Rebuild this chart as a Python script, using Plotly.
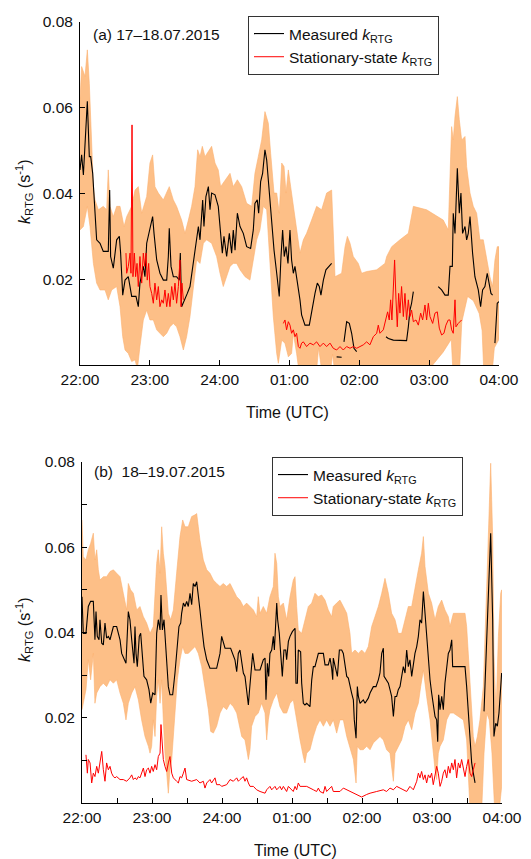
import plotly.graph_objects as go

# ---------------- DATA (time = minutes after 22:00 UTC) ----------------
hour_ticks = [0, 60, 120, 180, 240, 300, 360]
hour_labels = ["22:00", "23:00", "24:00", "01:00", "02:00", "03:00", "04:00"]

# Panel (a) 17-18.07.2015
meas_a = [(0,0.0455),(1.4,0.0490),(2.9,0.0443),(4.3,0.0510),(6.3,0.0615),(8.0,0.0486),(9.2,0.0486),(10.9,0.0447),
 (12.9,0.0370),(14.3,0.0292),(17.2,0.0284),(20.0,0.0265),(24.3,0.0265),(25.5,0.0408),(26.3,0.0253),(28.6,0.0226),
 (31.5,0.0292),(33.8,0.0300),(34.9,0.0261),(36.7,0.0163),(38.7,0.0198),(41.5,0.0206),(44.4,0.0160),(48.1,0.0160),
 (50.1,0.0136),(51.5,0.0191),(54.4,0.0230),(55.8,0.0206),(57.3,0.0284),(60.1,0.0315),(62.4,0.0346),(63.6,0.0307),
 (65.9,0.0245),(68.7,0.0214),(71.6,0.0198),(74.5,0.0198),(75.9,0.0253),(76.7,0.0319),(78.2,0.0230),(80.2,0.0206),
 (83.0,0.0206),(85.3,0.0198),(86.2,0.0261),(87.3,0.0136),(90.2,0.0152),(92.2,0.0167),(94.5,0.0183),(97.4,0.0237),
 (100.2,0.0292),(101.7,0.0323),(103.1,0.0292),(105.4,0.0385),(106.5,0.0323),(108.2,0.0393),(110.3,0.0416),(111.7,0.0362),
 (113.1,0.0401),(116.0,0.0397),(118.8,0.0370),(120.3,0.0315),(122.3,0.0261),(123.7,0.0300),(126.0,0.0253),(128.3,0.0307),
 (130.3,0.0261),(131.7,0.0315),(133.2,0.0268),(135.2,0.0354),(137.5,0.0323),(140.3,0.0307),(143.2,0.0276),(146.6,0.0272),
 (148.9,0.0315),(150.3,0.0377),(152.3,0.0385),(153.5,0.0354),(155.2,0.0428),(156.9,0.0447),(158.9,0.0502),(160.4,0.0478),
 (162.7,0.0401),(164.7,0.0323),(166.7,0.0268),(169.0,0.0214),(171.2,0.0160),(172.7,0.0253),(174.1,0.0315),(175.5,0.0253),
 (177.0,0.0276),(178.7,0.0237),(180.4,0.0315),(181.8,0.0245),(183.3,0.0214),(184.7,0.0230),(187.0,0.0191),(189.0,0.0152),
 (190.4,0.0117),(193.3,0.0093),(197.0,0.0093),(199.6,0.0136),(201.9,0.0167),(203.9,0.0191),(205.6,0.0183),(207.0,0.0163),
 (209.1,0.0198),(211.3,0.0222),(214.2,0.0230),(216.2,0.0237),(218.0,None),
 (220.5,0.0019),(224.8,0.0018),(225.8,None),
 (226.8,0.0054),(229.1,0.0101),(231.4,0.0097),(233.4,0.0074),(235.4,0.0039),(237.7,0.0031),(250.0,None),
 (262.9,0.0066),(264.9,0.0062),(269.2,0.0058),(274.9,0.0057),(280.6,0.0057),(282.1,0.0089),(283.5,0.0128),(284.9,0.0144),
 (286.4,0.0171),(297.0,None),
 (307.8,0.0183),(310.7,0.0175),(313.6,0.0163),(316.4,0.0163),(317.9,0.0230),(319.9,0.0230),(320.7,0.0354),(322.2,0.0307),
 (324.2,0.0459),(325.9,0.0354),(327.3,0.0401),(328.7,0.0307),(330.8,0.0323),(332.2,0.0292),(333.6,0.0307),(335.1,0.0346),
 (337.3,0.0261),(339.3,0.0206),(342.2,0.0175),(344.2,0.0136),(345.9,0.0175),(347.9,0.0183),(349.9,0.0214),(351.7,0.0191),
 (353.1,0.0167),(354.5,0.0163),(355.5,None),
 (356.5,0.0051),(358.5,0.0144),(360.0,0.0148)]

stat_a = [(39.5,0.0261),(40.1,0.0214),(41.5,0.0230),(43.0,0.0261),(43.8,0.0214),(44.7,0.0560),(45.5,0.0206),(46.7,0.0261),
 (47.8,0.0206),(49.0,0.0237),(50.1,0.0183),(51.5,0.0253),(53.0,0.0191),(54.4,0.0261),(55.6,0.0230),(56.7,0.0261),
 (57.8,0.0198),(59.0,0.0237),(60.1,0.0183),(61.6,0.0167),(63.0,0.0144),(64.4,0.0191),(65.9,0.0152),(67.3,0.0183),
 (68.7,0.0136),(70.2,0.0152),(71.6,0.0144),(73.0,0.0175),(74.5,0.0136),(75.9,0.0167),(77.3,0.0136),(78.8,0.0183),
 (80.2,0.0152),(81.6,0.0191),(83.0,0.0144),(84.5,0.0183),(85.9,0.0245),(86.8,0.0136),(87.6,0.0191),(88.8,0.0152),
 (110.0,None),
 (174.7,0.0097),(176.1,0.0105),(177.5,0.0082),(179.0,0.0101),(180.4,0.0093),(181.8,0.0074),(183.3,0.0082),(184.7,0.0066),
 (186.1,0.0074),(187.6,0.0043),(189.0,0.0039),(190.4,0.0051),(191.9,0.0054),(194.7,0.0043),(197.6,0.0051),(200.5,0.0047),
 (203.3,0.0054),(206.2,0.0043),(209.1,0.0051),(211.9,0.0043),(214.8,0.0051),(217.6,0.0039),(220.5,0.0035),(223.4,0.0043),
 (226.2,0.0035),(229.1,0.0043),(232.0,0.0039),(234.8,0.0043),(237.7,0.0039),(240.5,0.0043),(243.4,0.0047),(246.3,0.0054),
 (249.1,0.0047),(252.0,0.0066),(254.9,0.0074),(256.3,0.0093),(257.7,0.0074),(260.6,0.0082),(262.9,0.0105),(264.3,0.0124),
 (265.7,0.0105),(266.9,0.0152),(268.0,0.0105),(269.2,0.0167),(270.3,0.0245),(271.5,0.0152),(272.6,0.0089),(273.8,0.0167),
 (274.9,0.0121),(276.3,0.0183),(277.8,0.0113),(279.2,0.0167),(280.6,0.0105),(282.1,0.0152),(283.5,0.0113),(284.9,0.0128),
 (286.4,0.0101),(288.7,0.0105),(290.7,0.0093),(292.7,0.0121),(294.4,0.0105),(296.4,0.0140),(297.8,0.0105),(299.3,0.0144),
 (300.7,0.0113),(303.0,0.0097),(305.0,0.0121),(307.0,0.0124),(308.7,0.0086),(310.7,0.0070),(312.7,0.0074),(314.4,0.0093),
 (316.4,0.0105),(317.9,0.0105),(319.3,0.0082),(320.7,0.0074),(322.2,0.0152),(323.0,0.0089),(325.0,0.0097),(327.9,0.0105)]

upper_a = [(0,0.0619),(1.4,0.0696),(4.3,0.0673),(6.3,0.0735),(8.0,0.0657),(10.0,0.0525),(11.5,0.0416),(12.9,0.0385),
 (15.8,0.0362),(20.0,0.0370),(22.9,0.0362),(24.3,0.0455),(25.8,0.0370),(28.6,0.0346),(31.5,0.0370),(34.4,0.0370),
 (37.8,0.0323),(40.1,0.0346),(44.4,0.0370),(47.3,0.0408),(50.1,0.0416),(53.0,0.0354),(57.3,0.0393),(60.1,0.0471),
 (62.4,0.0490),(64.4,0.0416),(67.3,0.0401),(71.6,0.0385),(74.5,0.0401),(76.7,0.0416),(80.2,0.0385),(83.0,0.0370),
 (87.3,0.0338),(90.2,0.0307),(93.1,0.0338),(95.9,0.0370),(98.8,0.0416),(101.1,0.0502),(103.1,0.0486),(105.1,0.0510),
 (107.4,0.0486),(110.3,0.0498),(113.1,0.0510),(116.0,0.0471),(118.8,0.0455),(120.8,0.0416),(124.6,0.0432),(128.9,0.0447),
 (131.7,0.0416),(135.2,0.0432),(138.9,0.0416),(143.2,0.0377),(147.5,0.0370),(150.3,0.0447),(153.2,0.0486),(156.1,0.0525),
 (158.9,0.0591),(161.8,0.0564),(163.8,0.0494),(166.7,0.0401),(169.0,0.0401),(171.2,0.0354),(173.3,0.0471),(175.3,0.0463),
 (177.0,0.0401),(179.0,0.0455),(181.0,0.0416),(183.3,0.0370),(186.1,0.0307),(189.0,0.0261),(191.9,0.0292),(194.7,0.0307),
 (199.0,0.0338),(203.3,0.0370),(207.6,0.0362),(211.9,0.0401),(216.2,0.0408),(219.1,0.0206),(224.8,0.0214),(227.7,0.0276),
 (229.7,0.0300),(232.0,0.0284),(234.8,0.0253),(239.1,0.0237),(242.0,0.0214),(246.3,0.0218),(254.9,0.0222),(262.0,0.0237),
 (263.5,0.0253),(267.8,0.0276),(274.9,0.0292),(282.1,0.0307),(286.4,0.0370),(297.8,0.0362),(312.1,0.0338),(316.4,0.0315),
 (319.3,0.0556),(320.7,0.0525),(322.2,0.0580),(324.2,0.0626),(325.9,0.0572),(327.9,0.0525),(330.8,0.0533),(332.2,0.0463),
 (335.1,0.0401),(337.9,0.0370),(340.8,0.0354),(343.6,0.0292),(346.5,0.0292),(349.4,0.0245),(352.2,0.0206),(354.5,0.0183),
 (356.5,0.0245),(358.5,0.0276),(360.0,0.0276)]

lower_a = [(0,0.0315),(2.9,0.0323),(6.3,0.0370),(8.6,0.0323),(11.5,0.0237),(14.3,0.0191),(17.2,0.0175),(21.5,0.0175),
 (24.3,0.0152),(27.2,0.0175),(31.5,0.0183),(34.4,0.0136),(36.7,0.0066),(38.7,0.0035),(41.5,0.0027),(44.4,0.0008),
 (47.3,0.0012),(49.3,-0.0010),(51.5,0.0043),(54.4,0.0105),(57.3,0.0128),(60.1,0.0105),(63.0,0.0105),(65.9,0.0082),
 (68.7,0.0074),(71.6,0.0066),(74.5,0.0074),(77.3,0.0089),(80.2,0.0097),(83.0,0.0089),(85.9,0.0066),(88.8,0.0035),
 (91.6,0.0066),(94.5,0.0113),(97.4,0.0183),(100.2,0.0245),(103.1,0.0237),(106.0,0.0284),(108.8,0.0292),(113.1,0.0284),
 (117.4,0.0253),(120.3,0.0214),(123.1,0.0183),(126.0,0.0206),(128.9,0.0230),(131.7,0.0237),(134.6,0.0237),(137.5,0.0222),
 (141.8,0.0206),(146.0,0.0198),(148.9,0.0245),(151.8,0.0292),(154.6,0.0315),(157.5,0.0370),(160.4,0.0362),(163.2,0.0245),
 (166.1,0.0113),(169.0,0.0027),(170.4,0.0004),(173.3,0.0058),(176.1,0.0051),(179.0,0.0019),(181.8,0.0027),(183.3,0.0074),
 (186.1,0.0027),(188.4,-0.0020),(203.0,-0.0020),(205.0,0.0040),(208.0,-0.0020),(215.0,-0.0020),(217.0,0.0025),
 (219.0,-0.0020),(300.0,-0.0020),(303.0,0.0000),(312.0,0.0030),(319.0,0.0060),(320.5,-0.0020),(326.0,-0.0020),
 (328.0,0.0100),(333.0,0.0160),(338.0,0.0150),(343.0,0.0120),(345.5,0.0080),(347.0,-0.0020),(354.0,-0.0020),
 (356.0,0.0040),(360.0,0.0060)]

# Panel (b) 18-19.07.2015
meas_b = [(0,0.0484),(1.1,0.0398),(3.4,0.0398),(5.4,0.0461),(7.4,0.0473),(9.7,0.0473),(11.1,0.0383),(12.0,0.0449),
 (13.1,0.0391),(14.6,0.0383),(15.4,0.0430),(16.9,0.0375),(18.3,0.0371),(19.7,0.0422),(21.1,0.0387),(22.6,0.0391),
 (24.0,0.0383),(26.9,0.0414),(29.7,0.0414),(31.1,0.0398),(32.6,0.0383),(34.0,0.0351),(36.0,0.0336),(37.7,0.0328),
 (39.7,0.0449),(41.1,0.0430),(42.6,0.0383),(43.4,0.0359),(44.6,0.0328),(45.4,0.0414),(46.3,0.0351),(47.4,0.0320),
 (49.1,0.0391),(50.3,0.0398),(52.0,0.0320),(53.1,0.0297),(55.4,0.0289),(57.4,0.0266),(58.9,0.0234),(60.6,0.0258),
 (62.6,0.0254),(64.0,0.0398),(65.4,0.0430),(66.9,0.0406),(67.7,0.0488),(68.9,0.0406),(70.3,0.0430),(71.1,0.0398),
 (72.6,0.0351),(74.0,0.0273),(75.4,0.0254),(77.7,0.0254),(79.7,0.0305),(81.1,0.0351),(83.1,0.0414),(84.6,0.0422),
 (85.4,0.0445),(86.9,0.0469),(88.3,0.0461),(89.7,0.0473),(91.1,0.0461),(92.6,0.0492),(94.0,0.0465),(95.4,0.0515),
 (96.9,0.0508),(98.3,0.0519),(99.7,0.0492),(101.1,0.0453),(102.6,0.0414),(104.6,0.0367),(106.9,0.0336),(109.7,0.0316),
 (115.4,0.0316),(116.9,0.0336),(118.3,0.0351),(119.7,0.0391),(121.1,0.0379),(122.6,0.0363),(127.4,0.0363),(129.7,0.0344),
 (131.1,0.0336),(132.6,0.0308),(134.0,0.0351),(135.4,0.0359),(136.9,0.0336),(138.3,0.0305),(139.7,0.0297),(141.1,0.0266),
 (142.6,0.0230),(143.4,0.0258),(144.6,0.0305),(146.3,0.0351),(148.3,0.0312),(152.6,0.0312),(155.4,0.0336),(156.9,0.0340),
 (157.7,0.0242),(158.9,0.0328),(160.0,0.0297),(161.1,0.0351),(162.6,0.0359),(164.0,0.0391),(164.9,0.0359),(165.7,0.0414),
 (166.9,0.0469),(167.7,0.0430),(169.1,0.0398),(170.3,0.0351),(171.7,0.0297),(173.1,0.0359),(174.6,0.0359),(175.4,0.0336),
 (176.9,0.0379),(178.3,0.0391),(180.3,0.0402),(182.6,0.0410),(183.4,0.0281),(184.6,0.0281),(185.4,0.0359),(187.4,0.0355),
 (188.3,0.0281),(189.7,0.0234),(191.1,0.0230),(192.6,0.0234),(195.4,0.0226),(196.9,0.0289),(198.3,0.0320),(199.7,0.0320),
 (201.1,0.0336),(202.6,0.0351),(206.9,0.0351),(208.3,0.0324),(211.1,0.0324),(212.6,0.0340),(214.0,0.0316),(214.9,0.0289),
 (215.4,0.0340),(216.9,0.0320),(218.9,0.0297),(220.6,0.0359),(222.6,0.0359),(224.0,0.0351),(225.4,0.0328),(226.9,0.0297),
 (228.3,0.0293),(229.7,0.0273),(231.1,0.0258),(232.6,0.0242),(233.4,0.0195),(234.9,0.0152),(236.0,0.0273),(236.9,0.0250),
 (238.3,0.0234),(241.1,0.0242),(242.6,0.0234),(245.4,0.0246),(246.9,0.0258),(249.7,0.0273),(252.0,0.0273),(254.0,0.0289),
 (255.4,0.0305),(256.9,0.0351),(258.3,0.0363),(258.9,0.0297),(261.1,0.0289),(262.6,0.0281),(264.0,0.0266),(265.4,0.0250),
 (266.9,0.0203),(268.3,0.0250),(269.7,0.0250),(271.1,0.0266),(272.6,0.0273),(274.0,0.0297),(275.4,0.0320),(276.9,0.0305),
 (278.3,0.0359),(279.7,0.0320),(281.1,0.0336),(282.6,0.0297),(284.0,0.0328),(285.4,0.0351),(286.9,0.0367),(288.3,0.0391),
 (289.7,0.0430),(291.1,0.0422),(292.6,0.0496),(294.0,0.0445),(295.4,0.0398),(296.9,0.0336),(298.3,0.0289),(299.7,0.0258),
 (301.1,0.0234),(302.6,0.0203),(304.0,0.0195),(304.9,0.0144),(305.7,0.0254),(306.9,0.0219),(308.3,0.0250),(309.7,0.0219),
 (311.1,0.0281),(312.6,0.0320),(314.0,0.0351),(315.4,0.0359),(316.9,0.0383),(317.7,0.0320),(328.3,0.0320),(329.7,0.0273),
 (331.1,0.0219),(332.6,0.0156),(334.0,0.0094),(335.4,0.0070),(336.9,0.0047),(340.0,None),
 (344.6,0.0215),(346.9,0.0391),(348.6,0.0508),(350.3,0.0633),(352.0,0.0430),(353.1,0.0156),(354.6,0.0187),(356.0,0.0180),
 (357.4,0.0211),(358.9,0.0281),(359.7,0.0305)]

stat_b = [(3.4,0.0113),(4.6,0.0070),(5.4,0.0102),(6.9,0.0094),(8.3,0.0047),(9.7,0.0070),(11.1,0.0062),(12.6,0.0086),
 (14.0,0.0070),(15.4,0.0094),(16.9,0.0121),(18.3,0.0078),(19.7,0.0051),(21.1,0.0094),(22.6,0.0078),(24.0,0.0086),
 (25.4,0.0070),(26.9,0.0062),(28.3,0.0059),(29.7,0.0062),(32.6,0.0055),(35.4,0.0055),(38.3,0.0051),(41.1,0.0059),
 (42.6,0.0066),(44.0,0.0055),(45.4,0.0059),(46.9,0.0055),(48.3,0.0062),(49.7,0.0059),(51.1,0.0070),(52.6,0.0082),
 (54.0,0.0062),(55.4,0.0078),(56.9,0.0082),(58.3,0.0070),(59.7,0.0086),(61.1,0.0074),(62.6,0.0090),(64.0,0.0078),
 (65.4,0.0109),(66.9,0.0117),(67.7,0.0184),(68.9,0.0125),(69.7,0.0102),(71.1,0.0086),(72.6,0.0074),(74.0,0.0094),
 (75.4,0.0109),(76.9,0.0070),(78.3,0.0059),(81.1,0.0051),(82.6,0.0047),(84.0,0.0062),(85.4,0.0059),(86.9,0.0070),
 (88.3,0.0082),(89.7,0.0055),(94.0,0.0051),(98.3,0.0055),(101.1,0.0047),(104.0,0.0051),(105.4,0.0035),(106.9,0.0047),
 (109.7,0.0055),(111.1,0.0047),(114.0,0.0059),(115.4,0.0043),(118.3,0.0043),(119.7,0.0039),(124.0,0.0043),(126.9,0.0055),
 (129.7,0.0051),(132.6,0.0059),(134.0,0.0051),(135.4,0.0055),(138.3,0.0062),(139.7,0.0051),(141.1,0.0059),(142.6,0.0047),
 (144.0,0.0039),(146.9,0.0039),(149.7,0.0031),(152.6,0.0027),(156.9,0.0023),(158.3,0.0031),(161.1,0.0039),(162.6,0.0031),
 (165.4,0.0039),(166.9,0.0031),(169.7,0.0039),(171.1,0.0031),(172.6,0.0039),(175.4,0.0027),(176.9,0.0039),(181.1,0.0027),
 (182.6,0.0039),(184.0,0.0031),(185.4,0.0047),(186.9,0.0039),(192.6,0.0039),(198.3,0.0031),(201.1,0.0027),(202.6,0.0035),
 (204.0,0.0027),(206.9,0.0023),(208.3,0.0039),(209.7,0.0027),(214.0,0.0039),(215.4,0.0027),(221.1,0.0027),(224.0,0.0035),
 (226.9,0.0031),(229.7,0.0027),(232.6,0.0023),(235.4,0.0020),(239.7,0.0014),(244.0,0.0020),(246.9,0.0023),(252.6,0.0027),
 (258.3,0.0031),(261.1,0.0027),(264.0,0.0035),(266.9,0.0031),(269.7,0.0039),(272.6,0.0035),(275.4,0.0031),(278.3,0.0027),
 (281.1,0.0039),(284.0,0.0031),(286.9,0.0051),(288.3,0.0070),(289.7,0.0059),(291.1,0.0074),(292.6,0.0055),(294.0,0.0066),
 (295.4,0.0047),(296.9,0.0066),(298.3,0.0059),(299.7,0.0070),(301.1,0.0043),(302.6,0.0062),(304.0,0.0086),(305.4,0.0070),
 (306.9,0.0039),(308.3,0.0051),(309.7,0.0070),(311.1,0.0078),(312.6,0.0059),(314.0,0.0086),(315.4,0.0070),(316.9,0.0094),
 (318.3,0.0078),(319.7,0.0102),(321.1,0.0059),(322.6,0.0094),(324.0,0.0082),(325.4,0.0102),(326.9,0.0078),(328.3,0.0062),
 (329.7,0.0086),(331.1,0.0102),(332.6,0.0070),(334.0,0.0062),(335.4,0.0078),(336.9,0.0094)]

upper_b = [(0,0.0664),(1.1,0.0578),(3.4,0.0570),(5.4,0.0594),(7.4,0.0609),(9.7,0.0633),(11.1,0.0570),(12.6,0.0594),
 (14.0,0.0547),(15.4,0.0523),(18.3,0.0531),(21.1,0.0531),(24.0,0.0543),(26.9,0.0547),(29.7,0.0539),(32.6,0.0531),
 (35.4,0.0492),(38.3,0.0453),(39.7,0.0515),(41.7,0.0500),(44.0,0.0492),(46.9,0.0453),(49.7,0.0461),(52.6,0.0437),
 (55.4,0.0422),(58.3,0.0398),(61.1,0.0414),(64.0,0.0562),(65.4,0.0594),(66.9,0.0539),(68.3,0.0648),(69.7,0.0586),
 (71.1,0.0555),(74.0,0.0445),(76.0,0.0430),(78.3,0.0453),(81.1,0.0539),(84.0,0.0625),(86.3,0.0664),(88.3,0.0648),
 (91.1,0.0648),(94.0,0.0672),(96.9,0.0676),(98.3,0.0679),(99.7,0.0648),(101.1,0.0617),(104.0,0.0570),(106.9,0.0547),
 (109.7,0.0539),(112.6,0.0523),(115.4,0.0515),(118.3,0.0508),(121.1,0.0515),(124.0,0.0508),(126.9,0.0515),(129.7,0.0500),
 (132.6,0.0484),(135.4,0.0476),(138.3,0.0461),(141.1,0.0469),(144.0,0.0461),(146.9,0.0453),(149.7,0.0437),(151.1,0.0484),
 (152.6,0.0445),(155.4,0.0461),(158.3,0.0445),(161.1,0.0484),(164.0,0.0508),(165.4,0.0586),(166.9,0.0562),(168.3,0.0484),
 (169.7,0.0461),(172.6,0.0469),(175.4,0.0430),(178.3,0.0484),(181.1,0.0523),(182.6,0.0531),(184.0,0.0461),(185.4,0.0406),
 (188.3,0.0398),(191.1,0.0430),(194.0,0.0461),(196.9,0.0469),(199.7,0.0492),(202.6,0.0484),(205.4,0.0488),(208.3,0.0476),
 (211.1,0.0453),(214.0,0.0437),(215.4,0.0461),(218.3,0.0469),(221.1,0.0476),(224.0,0.0461),(226.9,0.0445),(229.7,0.0398),
 (231.1,0.0351),(234.0,0.0359),(236.9,0.0351),(239.7,0.0359),(242.6,0.0351),(245.4,0.0367),(248.3,0.0414),(251.1,0.0437),
 (254.0,0.0461),(256.9,0.0492),(259.7,0.0527),(262.6,0.0492),(265.4,0.0445),(268.3,0.0430),(271.1,0.0398),(274.0,0.0398),
 (276.9,0.0430),(279.7,0.0461),(282.6,0.0461),(285.4,0.0508),(288.3,0.0547),(291.1,0.0586),(292.6,0.0625),(294.0,0.0555),
 (296.9,0.0492),(299.7,0.0469),(302.6,0.0430),(305.4,0.0461),(308.3,0.0476),(311.1,0.0453),(314.0,0.0437),(315.4,0.0414),
 (318.3,0.0445),(322.6,0.0445),(328.3,0.0445),(329.7,0.0414),(331.1,0.0351),(332.6,0.0273),(334.0,0.0195),(335.4,0.0156),
 (336.9,0.0133),(338.9,0.0156),(341.1,0.0195),(344.0,0.0273),(346.9,0.0508),(348.6,0.0664),(350.3,0.0797),(352.0,0.0625),
 (353.1,0.0351),(354.9,0.0211),(356.9,0.0391),(358.9,0.0492),(359.7,0.0500)]

lower_b = [(0,0.0219),(1.1,0.0234),(3.4,0.0266),(5.4,0.0336),(7.4,0.0289),(9.7,0.0351),(11.1,0.0234),(12.6,0.0258),
 (15.4,0.0273),(18.3,0.0281),(21.1,0.0273),(24.0,0.0289),(26.9,0.0281),(29.7,0.0289),(32.6,0.0258),(35.4,0.0234),
 (37.7,0.0195),(39.7,0.0234),(42.6,0.0258),(45.4,0.0273),(48.3,0.0242),(51.1,0.0195),(54.0,0.0156),(56.9,0.0133),
 (58.3,0.0117),(59.7,0.0133),(61.1,0.0195),(62.6,0.0156),(64.0,0.0250),(65.4,0.0289),(66.9,0.0234),(68.3,0.0289),
 (69.7,0.0195),(71.1,0.0117),(72.6,0.0070),(74.0,0.0023),(75.4,0.0078),(76.9,0.0102),(78.3,0.0148),(79.7,0.0211),
 (81.7,0.0289),(84.0,0.0336),(86.3,0.0367),(88.3,0.0351),(91.1,0.0351),(94.0,0.0359),(96.9,0.0367),(99.7,0.0351),
 (102.6,0.0320),(105.4,0.0273),(108.3,0.0219),(110.3,0.0168),(112.6,0.0164),(115.4,0.0180),(118.3,0.0211),(121.1,0.0226),
 (124.0,0.0219),(126.9,0.0234),(129.7,0.0226),(132.6,0.0211),(134.9,0.0180),(136.9,0.0156),(139.7,0.0148),(141.7,0.0117),
 (142.6,0.0102),(144.0,0.0125),(145.4,0.0180),(148.3,0.0203),(151.1,0.0211),(154.0,0.0234),(156.9,0.0211),(158.3,0.0148),
 (159.7,0.0195),(161.1,0.0219),(164.0,0.0242),(166.9,0.0258),(169.7,0.0226),(172.6,0.0211),(175.4,0.0211),(178.3,0.0234),
 (181.1,0.0242),(184.0,0.0195),(186.9,0.0148),(189.7,0.0109),(191.1,0.0094),(192.6,0.0117),(195.4,0.0125),(198.3,0.0156),
 (201.1,0.0180),(204.0,0.0195),(206.9,0.0180),(209.7,0.0195),(212.6,0.0180),(215.4,0.0195),(218.3,0.0164),(221.1,0.0195),
 (224.0,0.0195),(226.9,0.0156),(229.7,0.0133),(232.6,0.0102),(234.9,0.0047),(236.0,0.0133),(238.3,0.0125),(241.1,0.0125),
 (244.0,0.0133),(246.9,0.0125),(249.7,0.0141),(252.6,0.0148),(255.4,0.0156),(258.3,0.0148),(261.1,0.0125),(264.0,0.0117),
 (266.9,0.0051),(268.3,0.0117),(271.1,0.0133),(274.0,0.0148),(276.9,0.0180),(279.7,0.0195),(282.6,0.0172),(285.4,0.0211),
 (288.3,0.0234),(290.3,0.0273),(292.6,0.0312),(295.4,0.0250),(298.3,0.0195),(301.1,0.0117),(302.6,0.0078),(304.0,0.0055),
 (305.4,0.0117),(306.9,0.0133),(309.7,0.0148),(312.6,0.0195),(315.4,0.0211),(318.3,0.0211),(322.6,0.0203),(326.9,0.0195),
 (329.7,0.0148),(331.1,0.0070),(332.6,-0.0016),(342.6,-0.0016),(344.6,0.0117),(346.9,0.0211),(349.1,0.0195),
 (351.4,0.0117),(353.7,-0.0016),(357.7,-0.0016),(359.7,0.0039)]

# ---------------- STYLE ----------------
FONT = "Arial, 'Liberation Sans', Helvetica, sans-serif"
W, H = 531, 859
BAND_FILL = "#FDBF87"
BAND_EDGE = "#FBB06E"


def unzip(pairs):
    return [p[0] for p in pairs], [p[1] for p in pairs]


def band_polygon(up, lo):
    tu, vu = unzip(up)
    tl, vl = unzip(lo)
    return tu + tl[::-1], vu + vl[::-1]


fig = go.Figure()

panels = [
    ("x", "y", "legend", upper_a, lower_a, meas_a, stat_a),
    ("x2", "y2", "legend2", upper_b, lower_b, meas_b, stat_b),
]
for xa, ya, lg, up, lo, me, st in panels:
    bx, by = band_polygon(up, lo)
    fig.add_trace(go.Scatter(x=bx, y=by, xaxis=xa, yaxis=ya, mode="lines", fill="toself",
                             fillcolor=BAND_FILL, line=dict(color=BAND_EDGE, width=0.6),
                             showlegend=False, hoverinfo="skip"))
    mt, mv = unzip(me)
    fig.add_trace(go.Scatter(x=mt, y=mv, xaxis=xa, yaxis=ya, mode="lines", connectgaps=False,
                             line=dict(color="black", width=1.1),
                             name="Measured <i>k</i><sub>RTG</sub>", legend=lg))
    stt, stv = unzip(st)
    fig.add_trace(go.Scatter(x=stt, y=stv, xaxis=xa, yaxis=ya, mode="lines", connectgaps=False,
                             line=dict(color="#FF0000", width=1.0),
                             name="Stationary-state <i>k</i><sub>RTG</sub>", legend=lg))


def px_x(p):
    return p / W


def px_y(p):
    return 1 - p / H


xcommon = dict(range=[0, 360], tickvals=hour_ticks, ticktext=hour_labels, showline=True,
               linecolor="black", linewidth=1, ticks="inside", ticklen=5, tickcolor="black",
               showgrid=False, zeroline=False, tickfont=dict(family=FONT, size=15.5, color="#111"),
               mirror=False, automargin=False)
ycommon = dict(range=[0, 0.08], tickvals=[0.02, 0.04, 0.06, 0.08],
               ticktext=["0.02", "0.04", "0.06", "0.08"], showline=True, linecolor="black",
               linewidth=1, ticks="inside", ticklen=5, tickcolor="black", showgrid=False,
               zeroline=False, tickfont=dict(family=FONT, size=15.5, color="#111"), mirror=False,
               automargin=False, ticklabelstandoff=3)

fig.update_layout(
    template="none",
    width=W, height=H, margin=dict(l=0, r=0, t=0, b=0, pad=0, autoexpand=False),
    paper_bgcolor="white", plot_bgcolor="white",
    font=dict(family=FONT, color="#111"),
    xaxis=dict(xcommon, domain=[px_x(80), px_x(499)], anchor="y"),
    yaxis=dict(ycommon, domain=[px_y(365), px_y(22)], anchor="x"),
    xaxis2=dict(xcommon, domain=[px_x(82), px_x(502)], anchor="y2",
                minor=dict(dtick=30, tick0=0, ticks="inside", ticklen=5, tickcolor="black")),
    yaxis2=dict(ycommon, domain=[px_y(803), px_y(462)], anchor="x2",
                minor=dict(dtick=0.01, tick0=0, ticks="inside", ticklen=5, tickcolor="black")),
    legend=dict(x=px_x(248), y=px_y(16), xanchor="left", yanchor="top", bordercolor="#333",
                borderwidth=1, bgcolor="white", font=dict(family=FONT, size=15.5, color="#111"),
                itemwidth=30, tracegroupgap=0),
    legend2=dict(x=px_x(272), y=px_y(457), xanchor="left", yanchor="top", bordercolor="#333",
                 borderwidth=1, bgcolor="white", font=dict(family=FONT, size=15.5, color="#111"),
                 itemwidth=30, tracegroupgap=0),
    showlegend=True,
)

annots = [
    dict(text="(a) 17–18.07.2015", x=px_x(91), y=px_y(34), xanchor="left", yanchor="middle", size=15.5),
    dict(text="(b)  18–19.07.2015", x=px_x(92), y=px_y(471), xanchor="left", yanchor="middle", size=15.5),
    dict(text="Time (UTC)", x=px_x(287), y=px_y(412), xanchor="center", yanchor="middle", size=16),
    dict(text="Time (UTC)", x=px_x(295), y=px_y(850), xanchor="center", yanchor="middle", size=16),
]
for a in annots:
    fig.add_annotation(text=a["text"], x=a["x"], y=a["y"], xref="paper", yref="paper",
                       xanchor=a["xanchor"], yanchor=a["yanchor"], showarrow=False,
                       font=dict(family=FONT, size=a["size"], color="#111"))
for yc in (192, 630):
    fig.add_annotation(text="<i>k</i><sub>RTG</sub> (s<sup>-1</sup>)", x=px_x(24), y=px_y(yc),
                       xref="paper", yref="paper", xanchor="center", yanchor="middle",
                       textangle=-90, showarrow=False,
                       font=dict(family=FONT, size=16, color="#111"))

fig.write_html("out.html")
